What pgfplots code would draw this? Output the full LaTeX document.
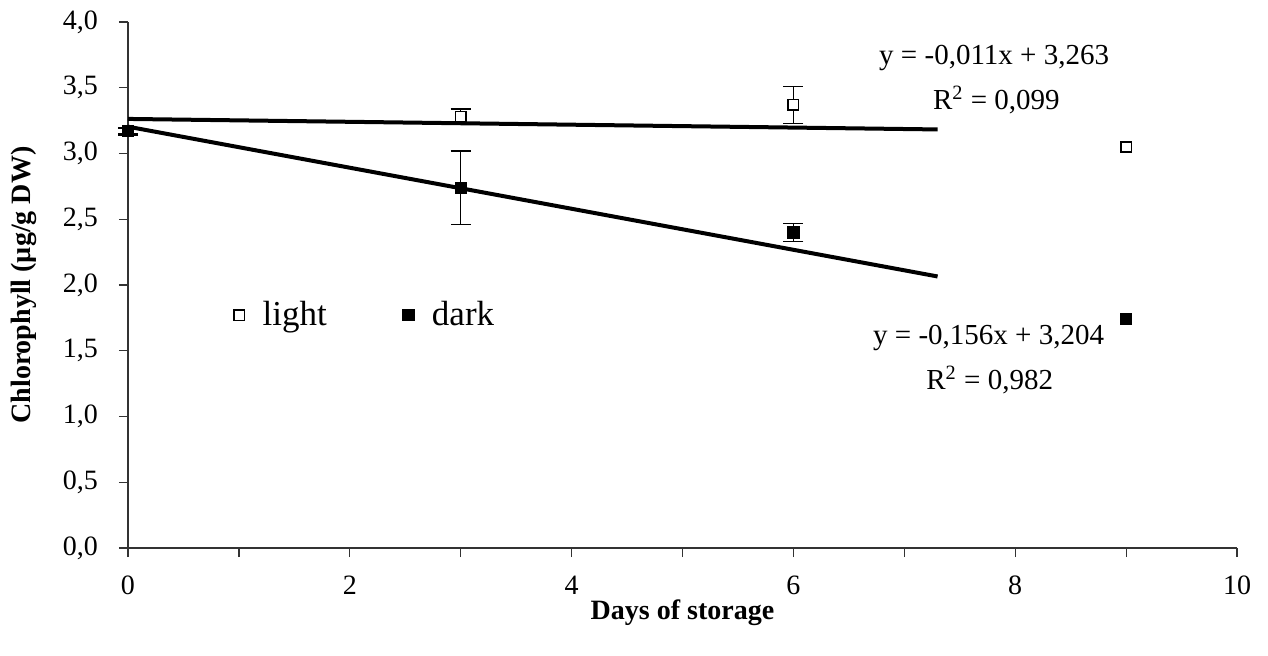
\documentclass[border=0pt]{standalone}
\usepackage{pgfplots}
\pgfplotsset{compat=1.18}
\usepackage{fontspec}
\setmainfont{Liberation Serif}
\newcommand\tickfont{\fontsize{14}{16}\selectfont}
\begin{document}
\begin{tikzpicture}
\begin{axis}[
  scale only axis,
  width=554.5pt, height=263pt,
  xmin=0, xmax=10, ymin=0, ymax=4,
  axis lines=left,
  axis line style={-, line width=0.6pt, black!80},
  xtick={0,2,...,10},
  minor x tick num=1,
  ytick={0,0.5,...,4},
  tick align=outside,
  major tick length=4.5pt, minor tick length=4.5pt,
  tick style={line width=0.6pt, black!80},
  /pgf/number format/assume math mode=true,
  yticklabel style={font=\tickfont, /pgf/number format/fixed, /pgf/number format/fixed zerofill, /pgf/number format/precision=1, /pgf/number format/use comma, xshift=-7pt},
  xticklabel style={font=\tickfont, /pgf/number format/fixed, /pgf/number format/use comma, yshift=-6pt},
  xlabel={\textbf{Days of storage}},
  ylabel={\textbf{Chlorophyll (µg/g DW)}},
  label style={font=\fontsize{14}{16}\selectfont},
  xlabel style={at={(axis description cs:0.5,-0.124)}, anchor=center},
  ylabel style={at={(axis description cs:-0.094,0.5)}, anchor=center},
  legend columns=2,
  legend style={draw=none, fill=none, font=\fontsize{17.5}{20}\selectfont,
    at={(axis cs:0.90,1.77)}, anchor=west,
    /tikz/every odd column/.append style={column sep=7pt},
    /tikz/every even column/.append style={column sep=36pt}},
  clip=false,
]
% trend lines
\addplot[black, line width=2pt, forget plot] coordinates {(0,3.263) (7.3,3.183)};
\addplot[black, line width=2pt, forget plot] coordinates {(0,3.204) (7.3,2.065)};
% light
\addplot[only marks, mark=square*, mark size=2.6pt, mark options={fill=white, draw=black, line width=0.8pt},
  error bars/.cd, y dir=both, y explicit, error mark options={rotate=90, mark size=5pt, line width=0.7pt}, error bar style={line width=0.7pt}]
  coordinates {(0,3.17) +- (0,0.02) (3,3.28) +- (0,0.06) (6,3.37) +- (0,0.14)};
\addlegendentry{light}
% dark
\addplot[only marks, mark=square*, mark size=2.8pt, mark options={fill=black, draw=black},
  error bars/.cd, y dir=both, y explicit, error mark options={rotate=90, mark size=5pt, line width=0.7pt}, error bar style={line width=0.7pt}]
  coordinates {(0,3.17) +- (0,0.03) (3,2.74) +- (0,0.28) (6,2.40) +- (0,0.07)};
\addlegendentry{dark}
% day 9 (no error bars)
\addplot[only marks, mark=square*, mark size=2.6pt, mark options={fill=white, draw=black, line width=0.8pt}, forget plot]
  coordinates {(9,3.05)};
\addplot[only marks, mark=square*, mark size=2.8pt, mark options={fill=black, draw=black}, forget plot]
  coordinates {(9,1.74)};
\node[font=\fontsize{14.5}{16}\selectfont] at (axis cs:7.81,3.726) {y = -0,011x + 3,263};
\node[font=\fontsize{14.5}{16}\selectfont] at (axis cs:7.83,3.407) {R\textsuperscript{2} = 0,099};
\node[font=\fontsize{14.5}{16}\selectfont] at (axis cs:7.76,1.597) {y = -0,156x + 3,204};
\node[font=\fontsize{14.5}{16}\selectfont] at (axis cs:7.77,1.278) {R\textsuperscript{2} = 0,982};
\end{axis}
\pgfresetboundingbox
\useasboundingbox (-64pt,-53.5pt) rectangle (570pt,274pt);
\end{tikzpicture}
\end{document}
